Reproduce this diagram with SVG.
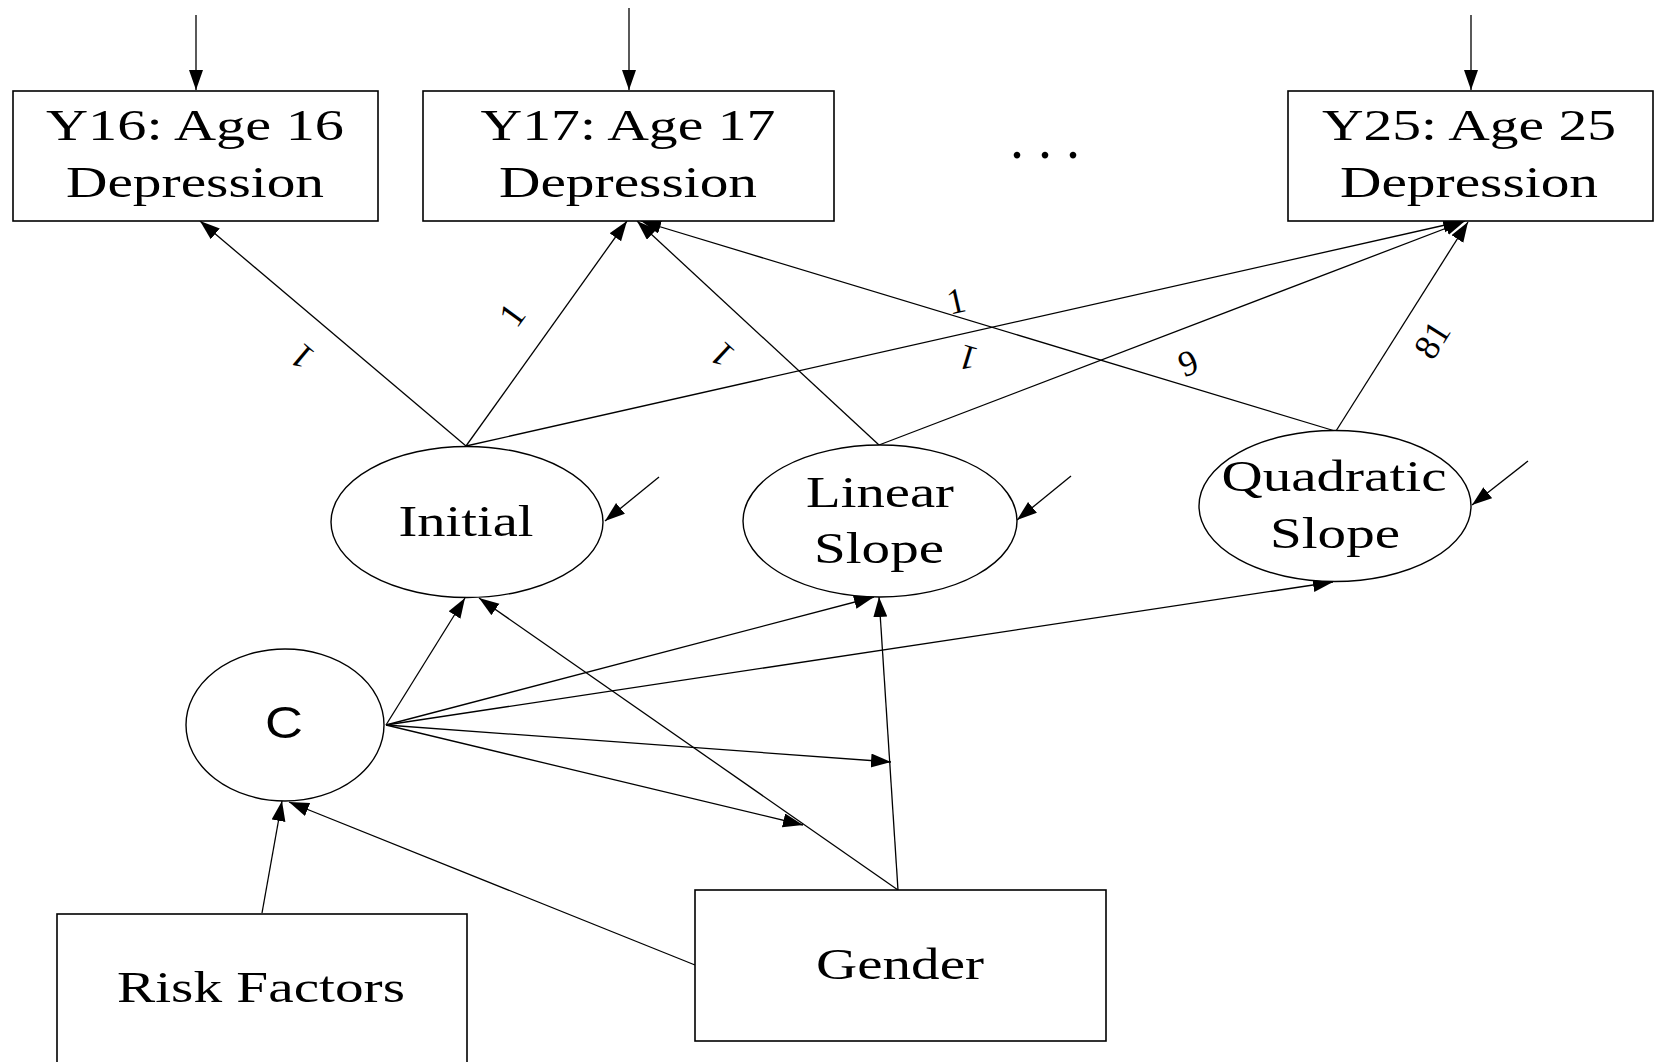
<svg xmlns="http://www.w3.org/2000/svg" width="1656" height="1062" viewBox="0 0 1656 1062">
<style>
.box{fill:#fff;stroke:#000;stroke-width:1.6}
.lat{fill:#fff;stroke:#000;stroke-width:1.4}
.t{font-family:"Liberation Serif","Times New Roman",serif;font-size:44px;fill:#000;text-anchor:middle}
.s{font-family:"Liberation Sans",Arial,sans-serif;font-size:44px;fill:#000;text-anchor:middle}
.lb{font-family:"Liberation Serif","Times New Roman",serif;font-size:36px;fill:#000;text-anchor:middle;dominant-baseline:central}
.e{fill:none;stroke:#000;stroke-width:1.3;marker-end:url(#ah)}
</style>
<defs>
<marker id="ah" markerUnits="userSpaceOnUse" markerWidth="22" markerHeight="16" refX="20" refY="7" orient="auto">
<path d="M0,0 L20,7 L0,14 z" fill="#000"/>
</marker>
</defs>
<rect width="1656" height="1062" fill="#fff"/>
<g id="connectors">
<line class="e" x1="196" y1="15" x2="196" y2="90"/>
<line class="e" x1="629" y1="8" x2="629" y2="90"/>
<line class="e" x1="1471" y1="15" x2="1471" y2="90"/>
<line class="e" x1="466" y1="446" x2="200" y2="221"/>
<line class="e" x1="466" y1="446" x2="627" y2="221"/>
<line class="e" x1="466" y1="446" x2="1463" y2="221"/>
<line class="e" x1="879" y1="445" x2="637" y2="221"/>
<line class="e" x1="879" y1="445" x2="1465" y2="221"/>
<line class="e" x1="1335" y1="431" x2="641" y2="221"/>
<line class="e" x1="1336" y1="431" x2="1468" y2="222"/>
<line class="e" x1="659" y1="477" x2="605" y2="521"/>
<line class="e" x1="1071" y1="476" x2="1017" y2="520"/>
<line class="e" x1="1528" y1="461" x2="1472" y2="505"/>
<line class="e" x1="386" y1="725" x2="465" y2="598"/>
<line class="e" x1="386" y1="725" x2="874" y2="597"/>
<line class="e" x1="386" y1="725" x2="1333" y2="582"/>
<line class="e" x1="386" y1="725" x2="891" y2="762"/>
<line class="e" x1="386" y1="725" x2="803" y2="825"/>
<line class="e" x1="898" y1="890" x2="479" y2="598"/>
<line class="e" x1="898" y1="890" x2="879" y2="597"/>
<line class="e" x1="695" y1="965" x2="289" y2="802"/>
<line class="e" x1="262" y1="913" x2="282" y2="801"/>
</g>
<g id="labels">
<text class="lb" transform="translate(302,357) rotate(220)">1</text>
<text class="lb" transform="translate(512,315) rotate(-54)">1</text>
<text class="lb" transform="translate(722,355) rotate(223)">1</text>
<text class="lb" transform="translate(956,301) rotate(-13)">1</text>
<text class="lb" transform="translate(968,358) rotate(197)">1</text>
<text class="lb" transform="translate(1188,363) rotate(-21)">9</text>
<text class="lb" transform="translate(1432,340) rotate(-58)">81</text>
</g>
<g id="y16">
<rect class="box" x="13" y="91" width="365" height="130"/>
<text class="t" x="195" y="140" textLength="298" lengthAdjust="spacingAndGlyphs">Y16: Age 16</text>
<text class="t" x="195" y="197" textLength="258" lengthAdjust="spacingAndGlyphs">Depression</text>
</g>
<g id="y17">
<rect class="box" x="423" y="91" width="411" height="130"/>
<text class="t" x="628" y="140" textLength="295" lengthAdjust="spacingAndGlyphs">Y17: Age 17</text>
<text class="t" x="628" y="197" textLength="258" lengthAdjust="spacingAndGlyphs">Depression</text>
</g>
<g id="ellipsis">
<text x="1010" y="158" style="font-family:'Liberation Serif',serif;font-size:56px;letter-spacing:14px">...</text>
</g>
<g id="y25">
<rect class="box" x="1288" y="91" width="365" height="130"/>
<text class="t" x="1469" y="140" textLength="294" lengthAdjust="spacingAndGlyphs">Y25: Age 25</text>
<text class="t" x="1469" y="197" textLength="258" lengthAdjust="spacingAndGlyphs">Depression</text>
</g>
<g id="initial">
<ellipse class="lat" cx="467" cy="522" rx="136" ry="75.5"/>
<text class="t" x="466" y="536" textLength="135" lengthAdjust="spacingAndGlyphs">Initial</text>
</g>
<g id="linear">
<ellipse class="lat" cx="880" cy="521" rx="137" ry="76"/>
<text class="t" x="880" y="507" textLength="148" lengthAdjust="spacingAndGlyphs">Linear</text>
<text class="t" x="879" y="563" textLength="130" lengthAdjust="spacingAndGlyphs">Slope</text>
</g>
<g id="quadratic">
<ellipse class="lat" cx="1335" cy="506" rx="136" ry="75.5"/>
<text class="t" x="1334" y="491" textLength="225" lengthAdjust="spacingAndGlyphs">Quadratic</text>
<text class="t" x="1335" y="548" textLength="130" lengthAdjust="spacingAndGlyphs">Slope</text>
</g>
<g id="c">
<ellipse class="lat" cx="285" cy="725" rx="99" ry="76"/>
<text class="s" x="284" y="738" textLength="38" lengthAdjust="spacingAndGlyphs">C</text>
</g>
<g id="risk">
<rect class="box" x="57" y="914" width="410" height="170"/>
<text class="t" x="261" y="1002" textLength="288" lengthAdjust="spacingAndGlyphs">Risk Factors</text>
</g>
<g id="gender">
<rect class="box" x="695" y="890" width="411" height="151"/>
<text class="t" x="900" y="979" textLength="168" lengthAdjust="spacingAndGlyphs">Gender</text>
</g>
</svg>
